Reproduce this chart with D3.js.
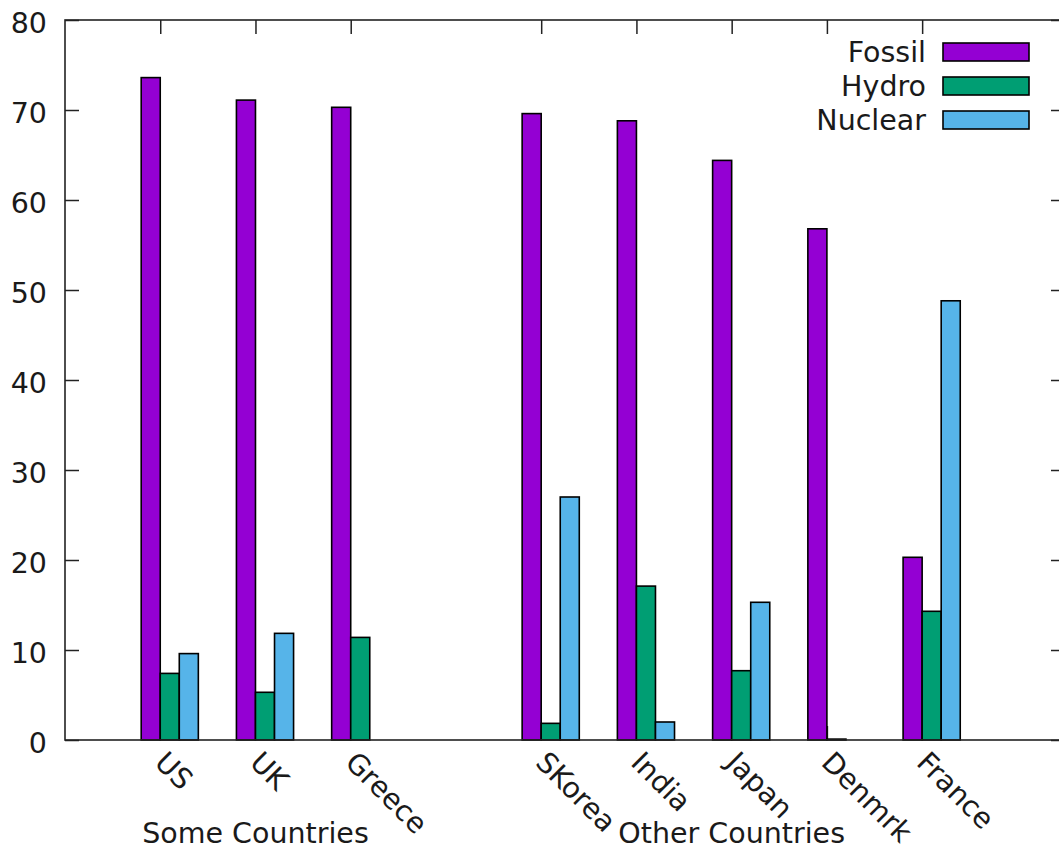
<!DOCTYPE html>
<html>
<head>
<meta charset="utf-8">
<script src="https://cdn.jsdelivr.net/npm/d3@7"></script>
<style>
  html, body { margin: 0; padding: 0; background: #fff; }
  svg { display: block; font-family: "DejaVu Sans", sans-serif; }
</style>
</head>
<body>
<svg id="chart" width="1059" height="850"></svg>
<script>
// ---- data ----
const categories = ["US", "UK", "Greece", "SKorea", "India", "Japan", "Denmrk", "France"];
const groupOf    = [0, 0, 0, 1, 1, 1, 1, 1];
const groupNames = ["Some Countries", "Other Countries"];
const seriesNames = ["Fossil", "Hydro", "Nuclear"];
const fossil  = [73.6, 71.1, 70.3, 69.6, 68.8, 64.4, 56.8, 20.3];
const hydro   = [7.4, 5.3, 11.4, 1.85, 17.1, 7.7, 0.1, 14.3];
const nuclear = [9.6, 11.85, null, 27.0, 2.0, 15.3, null, 48.8];
const yTicks  = [0, 10, 20, 30, 40, 50, 60, 70, 80];
const colors  = ["#9400d3", "#009e73", "#56b4e9"];

(function () {
// ---- layout ----
const svg = d3.select("#chart");
const L = 65, R = 1065, T = 20, B = 740;
const slot = categories.map((c, i) => i + groupOf[i]);   // one empty slot between groups
const x = d3.scaleLinear().domain([-1, 9.5]).range([L, R]);
const y = d3.scaleLinear().domain([0, 80]).range([B, T]);
const barW = 0.2;
const seriesVals = [fossil, hydro, nuclear];
const offsets = [-0.2, 0, 0.2];
const fontSize = 28.5;
const axisColor = "#222";
const textColor = "#1a1a1a";

const gAx = svg.append("g");
const axLeft = gAx.append("g").attr("transform", `translate(${L},0)`)
  .call(d3.axisLeft(y).tickValues(yTicks).tickSizeInner(-14).tickSizeOuter(0).tickPadding(18));
const axRight = gAx.append("g").attr("transform", `translate(${R},0)`)
  .call(d3.axisRight(y).tickValues(yTicks).tickSizeInner(-14).tickSizeOuter(0).tickFormat(""));
const axTop = gAx.append("g").attr("transform", `translate(0,${T})`)
  .call(d3.axisTop(x).tickValues(slot).tickSizeInner(-14).tickSizeOuter(0).tickFormat(""));
const axBottom = gAx.append("g").attr("transform", `translate(0,${B})`)
  .call(d3.axisBottom(x).tickValues(slot).tickSizeInner(-14).tickSizeOuter(0).tickFormat(""));

[axLeft, axRight, axTop, axBottom].forEach(g => {
  g.select(".domain").remove();
  g.selectAll(".tick line").attr("stroke", axisColor).attr("stroke-width", 1.5);
});
axLeft.selectAll(".tick text")
  .attr("font-size", fontSize).attr("font-family", "DejaVu Sans")
  .attr("fill", textColor).attr("dy", "0.43em");

// bars
seriesVals.forEach((vals, s) => {
  svg.append("g").selectAll("rect")
    .data(vals.map((v, i) => ({ v, i })).filter(d => d.v !== null))
    .join("rect")
    .attr("x", d => x(slot[d.i] + offsets[s]))
    .attr("width", d => x(slot[d.i] + offsets[s] + barW) - x(slot[d.i] + offsets[s]))
    .attr("y", d => y(d.v))
    .attr("height", d => y(0) - y(d.v))
    .attr("fill", colors[s])
    .attr("stroke", "#000")
    .attr("stroke-width", 1.6);
});

// border
svg.append("rect")
  .attr("x", L).attr("y", T).attr("width", R - L).attr("height", B - T)
  .attr("fill", "none").attr("stroke", axisColor).attr("stroke-width", 1.6);

// x tick labels (rotated)
svg.append("g").selectAll("text")
  .data(categories)
  .join("text")
  .attr("transform", (d, i) => `translate(${x(slot[i]) - 7},764) rotate(45)`)
  .attr("font-size", fontSize)
  .attr("fill", textColor)
  .attr("text-anchor", "start")
  .text(d => d);

// group labels
groupNames.forEach((name, g) => {
  const pos = slot.filter((p, i) => groupOf[i] === g);
  const cx = x((d3.min(pos) + d3.max(pos)) / 2);
  svg.append("text")
    .attr("x", cx).attr("y", 843)
    .attr("text-anchor", "middle")
    .attr("font-size", fontSize)
    .attr("fill", textColor)
    .text(name);
});

// legend
const legY = [52, 86, 120];
const leg = svg.append("g");
seriesNames.forEach((name, s) => {
  leg.append("text")
    .attr("x", 926).attr("y", legY[s]).attr("dy", "0.36em")
    .attr("text-anchor", "end")
    .attr("font-size", fontSize)
    .attr("fill", textColor)
    .text(name);
  leg.append("rect")
    .attr("x", 943).attr("y", legY[s] - 9)
    .attr("width", 86).attr("height", 18)
    .attr("fill", colors[s])
    .attr("stroke", "#000").attr("stroke-width", 1.6);
});
})();
</script>
</body>
</html>
